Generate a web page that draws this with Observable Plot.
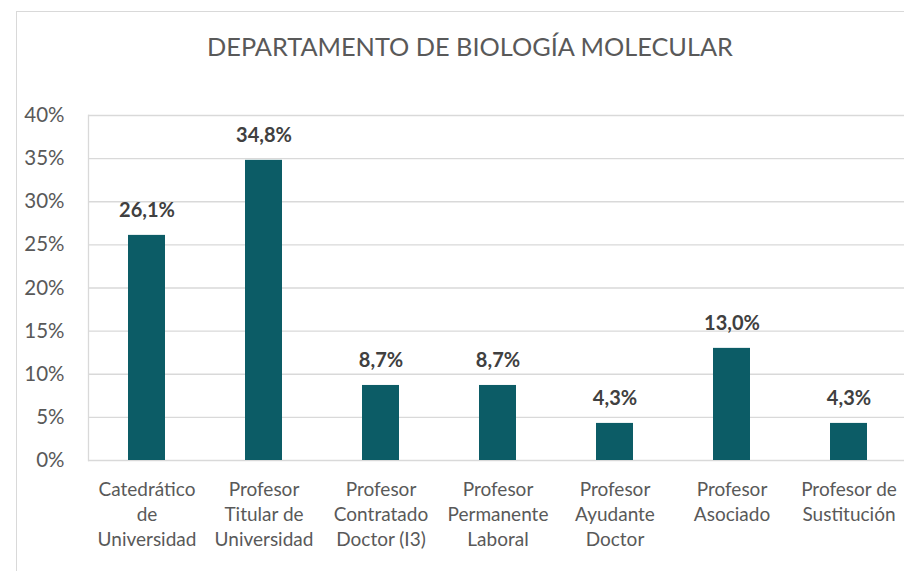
<!DOCTYPE html>
<html>
<head>
<meta charset="utf-8">
<script src="https://cdn.jsdelivr.net/npm/d3@7"></script>
<script src="https://cdn.jsdelivr.net/npm/@observablehq/plot@0.6"></script>
<style>
  html, body { margin: 0; padding: 0; background: #fff; width: 904px; height: 571px; overflow: hidden; }
  #wrap { position: relative; width: 904px; height: 571px; }
  #border { position: absolute; left: 16px; top: 11px; width: 940px; height: 600px; border: 1.5px solid #d9d9d9; box-sizing: border-box; }
  #title { position: absolute; left: 0; top: 31px; width: 940px; text-align: center; font-family: Lato, sans-serif; font-size: 25.3px; color: #595959; }
  #chart { position: absolute; left: 0; top: 0; }
</style>
</head>
<body>
<div id="wrap">
  <div id="border"></div>
  <div id="title">DEPARTAMENTO DE BIOLOGÍA MOLECULAR</div>
  <div id="chart"></div>
</div>
<script>
const categories = [
  "Catedrático\nde\nUniversidad",
  "Profesor\nTitular de\nUniversidad",
  "Profesor\nContratado\nDoctor (I3)",
  "Profesor\nPermanente\nLaboral",
  "Profesor\nAyudante\nDoctor",
  "Profesor\nAsociado",
  "Profesor de\nSustitución"
];
const values = [0.261, 0.348, 0.087, 0.087, 0.043, 0.130, 0.043];
const valueLabels = ["26,1%", "34,8%", "8,7%", "8,7%", "4,3%", "13,0%", "4,3%"];
const yTicks = [0, 0.05, 0.10, 0.15, 0.20, 0.25, 0.30, 0.35, 0.40];

const data = categories.map((c, i) => ({cat: c, value: values[i], label: valueLabels[i]}));

const chart = Plot.plot({
  width: 904,
  height: 571,
  marginLeft: 88,
  marginRight: 0,
  marginTop: 115,
  marginBottom: 111,
  style: {fontFamily: "Lato, sans-serif", background: "transparent", overflow: "visible"},
  x: {domain: categories, range: [87.5, 908.5], paddingInner: 0.68, paddingOuter: 0.34, label: null},
  y: {domain: [0, 0.40], label: null},
  marks: [
    Plot.ruleY(yTicks, {stroke: "#d9d9d9", strokeWidth: 1.3}),
    Plot.frame({anchor: "left", stroke: "#d9d9d9", strokeWidth: 1.3}),
    Plot.barY(data, {x: "cat", y: "value", fill: "#0c5c66"}),
    Plot.text(data, {x: "cat", y: "value", text: "label", dy: -25, lineAnchor: "middle",
      fontSize: 20, fontWeight: "bold", fill: "#404040"}),
    Plot.axisY({ticks: yTicks, tickFormat: d => Math.round(d * 100) + "%", tickSize: 0, tickPadding: 24,
      fontSize: 20.5, color: "#595959", label: null}),
    Plot.axisX({tickSize: 0, tickPadding: 17, fontSize: 19, lineHeight: 1.34, color: "#595959", label: null,
      textAnchor: "middle"})
  ]
});
document.getElementById("chart").appendChild(chart);
</script>
</body>
</html>
